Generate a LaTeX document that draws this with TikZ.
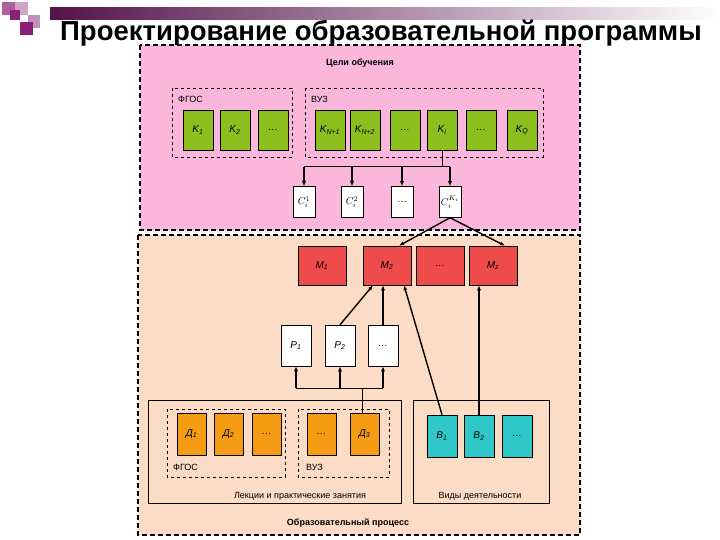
\documentclass[tikz,border=0pt]{standalone}
\usepackage{fontspec}
\setmainfont{Liberation Sans}
\usetikzlibrary{arrows.meta}
\definecolor{pinkbg}{HTML}{FBB6DC}
\definecolor{peachbg}{HTML}{FCDCC4}
\definecolor{grn}{HTML}{8CBF1E}
\definecolor{redb}{HTML}{EF4B4B}
\definecolor{orb}{HTML}{F59B14}
\definecolor{cyb}{HTML}{2EC8C8}
\definecolor{purp}{HTML}{8A1F78}
\newcommand{\sbs}[2]{#1\textsubscript{#2}}
\begin{document}
\begin{tikzpicture}[x=1pt,y=-1pt,
  bx/.style={draw=black,line width=0.5pt,font=\itshape\fontsize{10}{10}\selectfont},
  gbox/.style={bx,fill=grn},
  rbox/.style={bx,fill=redb},
  obox/.style={bx,fill=orb},
  cbox/.style={bx,fill=cyb},
  wbox/.style={bx,fill=white},
  dbox/.style={draw=black,dashed,line width=0.6pt},
  bigd/.style={draw=black,dash pattern=on 5pt off 3pt,line width=1.6pt},
  lbl/.style={font=\fontsize{9}{9}\selectfont,inner sep=0pt},
  arr/.style={line width=1.4pt,-{Latex[length=5pt,width=4pt]}}]
\useasboundingbox (0,0) rectangle (720,540);
\fill[white] (0,0) rectangle (720,540);
% decoration
\shade[left color=purp!60!black,right color=white] (50,8) rectangle (720,20);
\fill[purp!70] (2,2) rectangle (15,15);
\fill[purp!40] (15,2) rectangle (28,15);
\fill[purp] (10,10) rectangle (20,20);
\fill[purp!50] (28,15) rectangle (40,28);
\fill[purp] (20,22) rectangle (33,35);
\node[font=\bfseries\fontsize{27.5}{28}\selectfont,anchor=west,inner sep=0pt] (title) at (60,33) {Проектирование образовательной программы};
% big regions
\draw[bigd,fill=pinkbg] (140,45) rectangle (580,230);
\draw[bigd,fill=peachbg] (138,235) rectangle (580,535);
\node[lbl,font=\bfseries\fontsize{9}{9}\selectfont] (goals) at (360,63) {Цели обучения};
\draw[dbox] (172,88) rectangle (292,157);
\draw[dbox] (305,88) rectangle (543,157);
\node[lbl,anchor=west] (fg1) at (178,99) {ФГОС};
\node[lbl,anchor=west] (vz1) at (311,99) {ВУЗ};
% green
\foreach \n/\a/\t in {k1/183/{\sbs{K}{1}},k2/220/{\sbs{K}{2}},k3/258/{\dots},kn1/315/{\sbs{K}{N+1}},kn2/350/{\sbs{K}{N+2}},k4/390/{\dots},ki/427/{\sbs{K}{i}},k5/466/{\dots},kq/507/{\sbs{K}{Q}}}
  \node[gbox,minimum width=30pt,minimum height=40pt,inner sep=0pt] (\n) at (\a+15,130) {\t};
% C boxes
\foreach \n/\a/\t in {c1/293/{$C_i^1$},c2/341/{$C_i^2$},c3/391/{\dots},c4/439/{$C_i^{K_i}$}}
  \node[wbox,font=\fontsize{10}{10}\selectfont,minimum width=22pt,minimum height=31pt,inner sep=0pt] (\n) at (\a+11,202) {\t};
\coordinate (j1) at (442,167);
\draw[line width=1pt] (ki.south) -- (j1);
\draw[line width=1pt] (c1.north |- j1) -- (c4.north |- j1);
\foreach \n in {c1,c2,c3,c4} \draw[arr] (\n.north |- j1) -- (\n.north);
% M
\foreach \n/\a/\t in {m1/298/{\sbs{M}{1}},m2/363/{\sbs{M}{2}},m3/416/{\dots},mz/469/{\sbs{M}{z}}}
  \node[rbox,minimum width=48pt,minimum height=39pt,inner sep=0pt] (\n) at (\a+24,265.5) {\t};
\draw[arr] (c4.south) -- ([xshift=12pt]m2.north);
\draw[arr] (c4.south) -- ([xshift=12pt]mz.north);
% P
\foreach \n/\a/\t in {p1/281/{\sbs{P}{1}},p2/325/{\sbs{P}{2}},p3/368/{\dots}}
  \node[wbox,minimum width=30pt,minimum height=41pt,inner sep=0pt] (\n) at (\a+15,345.5) {\t};
\draw[arr] (p2.north) -- ([xshift=-14pt]m2.south);
\draw[arr] (p3.north) -- (p3.north |- m2.south);
% lower boxes
\draw[line width=0.6pt] (148,400) rectangle (401,503);
\draw[line width=0.6pt] (413,400) rectangle (549,503);
\draw[dbox] (167,409) rectangle (285,477);
\draw[dbox] (298,409) rectangle (389,477);
\foreach \n/\a/\t in {d1/177/{\sbs{Д}{1}},d2/214/{\sbs{Д}{2}},d3/252/{\dots},d4/307/{\dots},d5/350/{\sbs{Д}{3}}}
  \node[obox,minimum width=29pt,minimum height=42pt,inner sep=0pt] (\n) at (\a+14.5,434) {\t};
\foreach \n/\a/\t in {b1/427/{\sbs{В}{1}},b2/464/{\sbs{В}{2}},b3/502/{\dots}}
  \node[cbox,minimum width=30pt,minimum height=42pt,inner sep=0pt] (\n) at (\a+15,436) {\t};
\node[lbl,anchor=west] (fg2) at (173,467) {ФГОС};
\node[lbl,anchor=west] (vz2) at (306,467) {ВУЗ};
\node[lbl] (lec) at (300,496) {Лекции и практические занятия};
\node[lbl] (vid) at (480,496) {Виды деятельности};
\node[lbl,font=\bfseries\fontsize{9}{9}\selectfont] (proc) at (348,523) {Образовательный процесс};
% junction to P
\coordinate (j2) at (362,388);
\draw[line width=1pt] (d5.north -| j2) -- (j2);
\draw[line width=1pt] (p1.south |- j2) -- (p3.south |- j2);
\foreach \n in {p1,p2,p3} \draw[arr] (\n.south |- j2) -- (\n.south);
\draw[arr] (b1.north) -- ([xshift=17pt]m2.south);
\draw[arr] (b2.north) -- (b2.north |- mz.south);
\end{tikzpicture}
\end{document}
